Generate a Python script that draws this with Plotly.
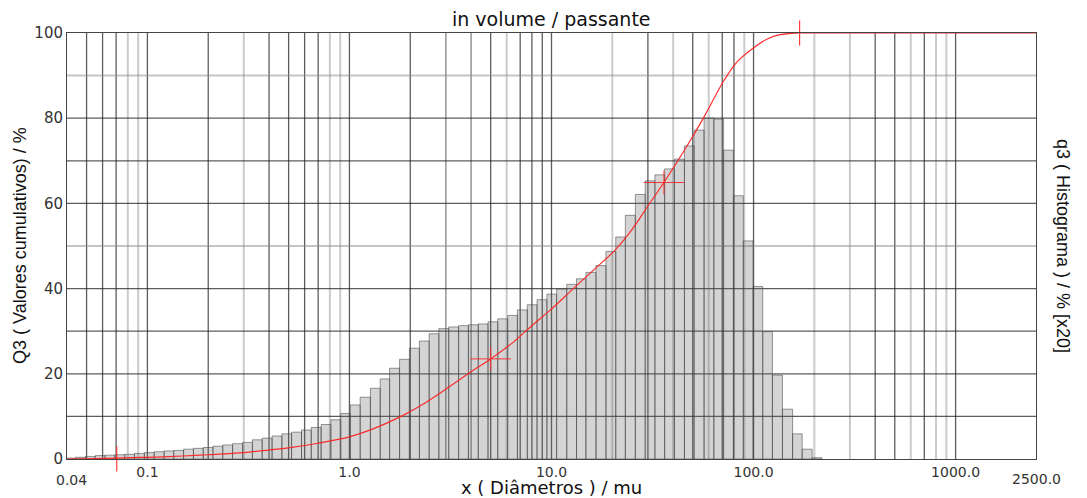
import math
import plotly.graph_objects as go

# ---- histogram classes (bin edges, µm) and q3 heights (% x20)
edges = [0.0395, 0.0441, 0.0493, 0.0552, 0.0617, 0.0690, 0.0772, 0.0863, 0.0966, 0.108,
         0.121, 0.135, 0.151, 0.169, 0.189, 0.211, 0.236, 0.264, 0.296, 0.331,
         0.370, 0.414, 0.463, 0.517, 0.579, 0.647, 0.724, 0.809, 0.905, 1.01,
         1.13, 1.27, 1.42, 1.58, 1.77, 1.98, 2.22, 2.48, 2.77, 3.10,
         3.47, 3.88, 4.34, 4.85, 5.42, 6.07, 6.78, 7.59, 8.48, 9.49,
         10.6, 11.9, 13.3, 14.8, 16.6, 18.6, 20.8, 23.2, 26.0, 29.1,
         32.5, 36.3, 40.6, 45.5, 50.8, 56.9, 63.6, 71.1, 79.5, 89.0,
         99.5, 111, 124, 139, 156, 174, 195, 218]

hist = [0.2, 0.4, 0.6, 0.8, 0.9, 1.0, 1.1, 1.3, 1.5, 1.7, 1.9, 2.0, 2.3, 2.5, 2.7, 3.0, 3.3, 3.6, 3.9,
        4.5, 4.9, 5.4, 5.9, 6.3, 6.8, 7.4, 8.1, 9.2, 10.7, 12.7, 14.5, 16.6, 18.8, 21.3, 23.4, 26.0, 27.7, 29.4,
        30.6, 31.0, 31.3, 31.5, 31.7, 32.2, 32.9, 33.7, 35.0, 36.2, 37.4, 38.7, 39.9, 41.0, 42.3, 43.8, 45.4, 48.7, 52.1,
        57.2, 62.1, 65.3, 66.7, 68.1, 70.4, 73.5, 77.2, 80.0, 79.8, 72.5, 61.8, 51.2, 40.5, 29.9, 19.7, 11.7, 5.9, 2.3, 0.3]

# ---- cumulative Q3 curve
cum_d = [0.04, 0.055, 0.07, 0.1, 0.15, 0.2, 0.3, 0.4, 0.5, 0.7, 1.0, 1.3, 1.8, 2.3, 3.0, 4.0, 5.0, 6.5,
         7.86, 9.89, 12.9, 16.8, 20.3, 24.6, 30.4, 36.0, 47.0, 56.9, 71.5, 83.1, 100.6, 117, 135, 166, 200, 2500]
cum_q = [0.0, 0.1, 0.2, 0.4, 0.7, 1.0, 1.5, 2.1, 2.6, 3.7, 5.2, 7.0, 10.0, 12.8, 16.4, 20.5, 23.5, 27.5,
         31.0, 35.0, 40.1, 45.1, 48.7, 53.4, 59.8, 64.9, 73.6, 80.3, 88.9, 93.3, 96.6, 98.6, 99.6, 100.0, 100.0, 100.0]

# ---- marked points
cross_d = [5.0, 36.0]
cross_q = [23.5, 64.9]
limit_d = [0.0705, 169]
limit_q = [0, 100]

# ---- axis labels
x_tickvals = [0.1, 1, 10, 100, 1000]
x_ticktext = ["0.1", "1.0", "10.0", "100.0", "1000.0"]
y_tickvals = [0, 20, 40, 60, 80, 100]
x_min, x_max = 0.04, 2500

fig = go.Figure()

# histogram bars drawn as closed polygons (log axis)
bx, by = [], []
for k, h in enumerate(hist):
    l, r = edges[k], edges[k + 1]
    bx += [l, l, r, r, l, None]
    by += [0, h, h, 0, 0, None]
fig.add_trace(go.Scatter(x=bx, y=by, mode="lines", fill="toself",
                         fillcolor="rgba(95,95,95,0.27)",
                         line=dict(color="rgba(70,70,70,0.55)", width=1),
                         hoverinfo="skip", showlegend=False))

# cumulative curve
fig.add_trace(go.Scatter(x=cum_d, y=cum_q, mode="lines",
                         line=dict(color="rgba(255,35,35,0.95)", width=1.2, shape="spline", smoothing=1.0),
                         showlegend=False))

# cross markers
red = "rgba(255,40,40,0.9)"
fig.add_trace(go.Scatter(x=cross_d, y=cross_q, mode="markers", cliponaxis=False,
                         marker=dict(symbol="line-ew", size=29, line=dict(color=red, width=1)),
                         showlegend=False))
fig.add_trace(go.Scatter(x=cross_d, y=cross_q, mode="markers", cliponaxis=False,
                         marker=dict(symbol="line-ns", size=17, line=dict(color=red, width=1)),
                         showlegend=False))
fig.add_trace(go.Scatter(x=limit_d, y=limit_q, mode="markers", cliponaxis=False,
                         marker=dict(symbol="line-ns", size=18, line=dict(color=red, width=1.2)),
                         showlegend=False))

# grid lines (log grid 1..9 per decade, 10 % steps)
light_v = {0.08, 0.09, 0.3, 0.8, 0.9, 6, 20, 40, 60, 90, 200, 300, 600, 800, 900}
mid_v = {3, 4}
shapes = []
for e in range(-2, 4):
    for m in range(1, 10):
        d = round(m * 10 ** e, 6)
        if d <= x_min or d > 1000:
            continue
        if d in light_v:
            col, w = "rgba(140,140,140,0.45)", 2
        elif d in mid_v:
            col, w = "rgba(60,60,60,0.55)", 1.5
        else:
            col, w = "rgba(30,30,30,0.72)", 1.3
        shapes.append(dict(type="line", xref="x", yref="paper", x0=d, x1=d, y0=0, y1=1,
                           line=dict(color=col, width=w), layer="below"))
for v in range(10, 100, 10):
    if v in (50, 90):
        col, w = "rgba(140,140,140,0.5)", 2
    else:
        col, w = "rgba(30,30,30,0.72)", 1.3
    shapes.append(dict(type="line", xref="paper", yref="y", x0=0, x1=1, y0=v, y1=v,
                       line=dict(color=col, width=w), layer="below"))

title_font = dict(family="DejaVu Sans", size=19, color="#111")
xtitle_font = dict(family="DejaVu Sans", size=18, color="#111")
side_font = dict(family="Liberation Sans", size=18, color="#111")
tick_font = dict(family="DejaVu Sans", size=15, color="#333")
xtick_font = dict(family="DejaVu Sans", size=14, color="#333")

annotations = [
    dict(text="in volume / passante", xref="paper", yref="paper", x=0.5, y=1,
         xanchor="center", yanchor="middle", yshift=14.5, showarrow=False, font=title_font),
    dict(text="x ( Diâmetros ) / mu", xref="paper", yref="paper", x=0.5, y=0,
         xanchor="center", yanchor="middle", yshift=-28.5, showarrow=False, font=xtitle_font),
    dict(text="Q3 ( Valores cumulativos) / %", xref="paper", yref="paper", x=0, y=0.5,
         xanchor="center", yanchor="middle", xshift=-47, textangle=-90, showarrow=False, font=side_font),
    dict(text="q3 ( Histograma ) / % [x20]", xref="paper", yref="paper", x=1, y=0.5,
         xanchor="center", yanchor="middle", xshift=27, textangle=90, showarrow=False, font=side_font),
    dict(text="0.04", xref="x", yref="paper", x=math.log10(x_min), y=0, xshift=4,
         xanchor="center", yanchor="middle", yshift=-21, showarrow=False, font=xtick_font),
    dict(text="2500.0", xref="x", yref="paper", x=math.log10(x_max), y=0, xshift=0,
         xanchor="center", yanchor="middle", yshift=-20, showarrow=False, font=xtick_font),
]

# page body has an 8 px default margin: figure is 1079x490 so that the plot area sits at
# x 67..1036, y 33..459 of the window
fig.update_layout(
    width=1079, height=490,
    margin=dict(l=59, r=51, t=25, b=39),
    paper_bgcolor="white", plot_bgcolor="white",
    shapes=shapes, annotations=annotations,
    showlegend=False,
    xaxis=dict(type="log", range=[math.log10(x_min), math.log10(x_max)],
               tickvals=x_tickvals, ticktext=x_ticktext, ticks="",
               showgrid=False, zeroline=False, showline=True, mirror=True,
               linecolor="#444", linewidth=1, tickfont=xtick_font),
    yaxis=dict(range=[0, 100], tickvals=y_tickvals, ticks="",
               showgrid=False, zeroline=False, showline=True, mirror=True,
               linecolor="#444", linewidth=1, tickfont=tick_font),
)

fig.write_html("out.html")
